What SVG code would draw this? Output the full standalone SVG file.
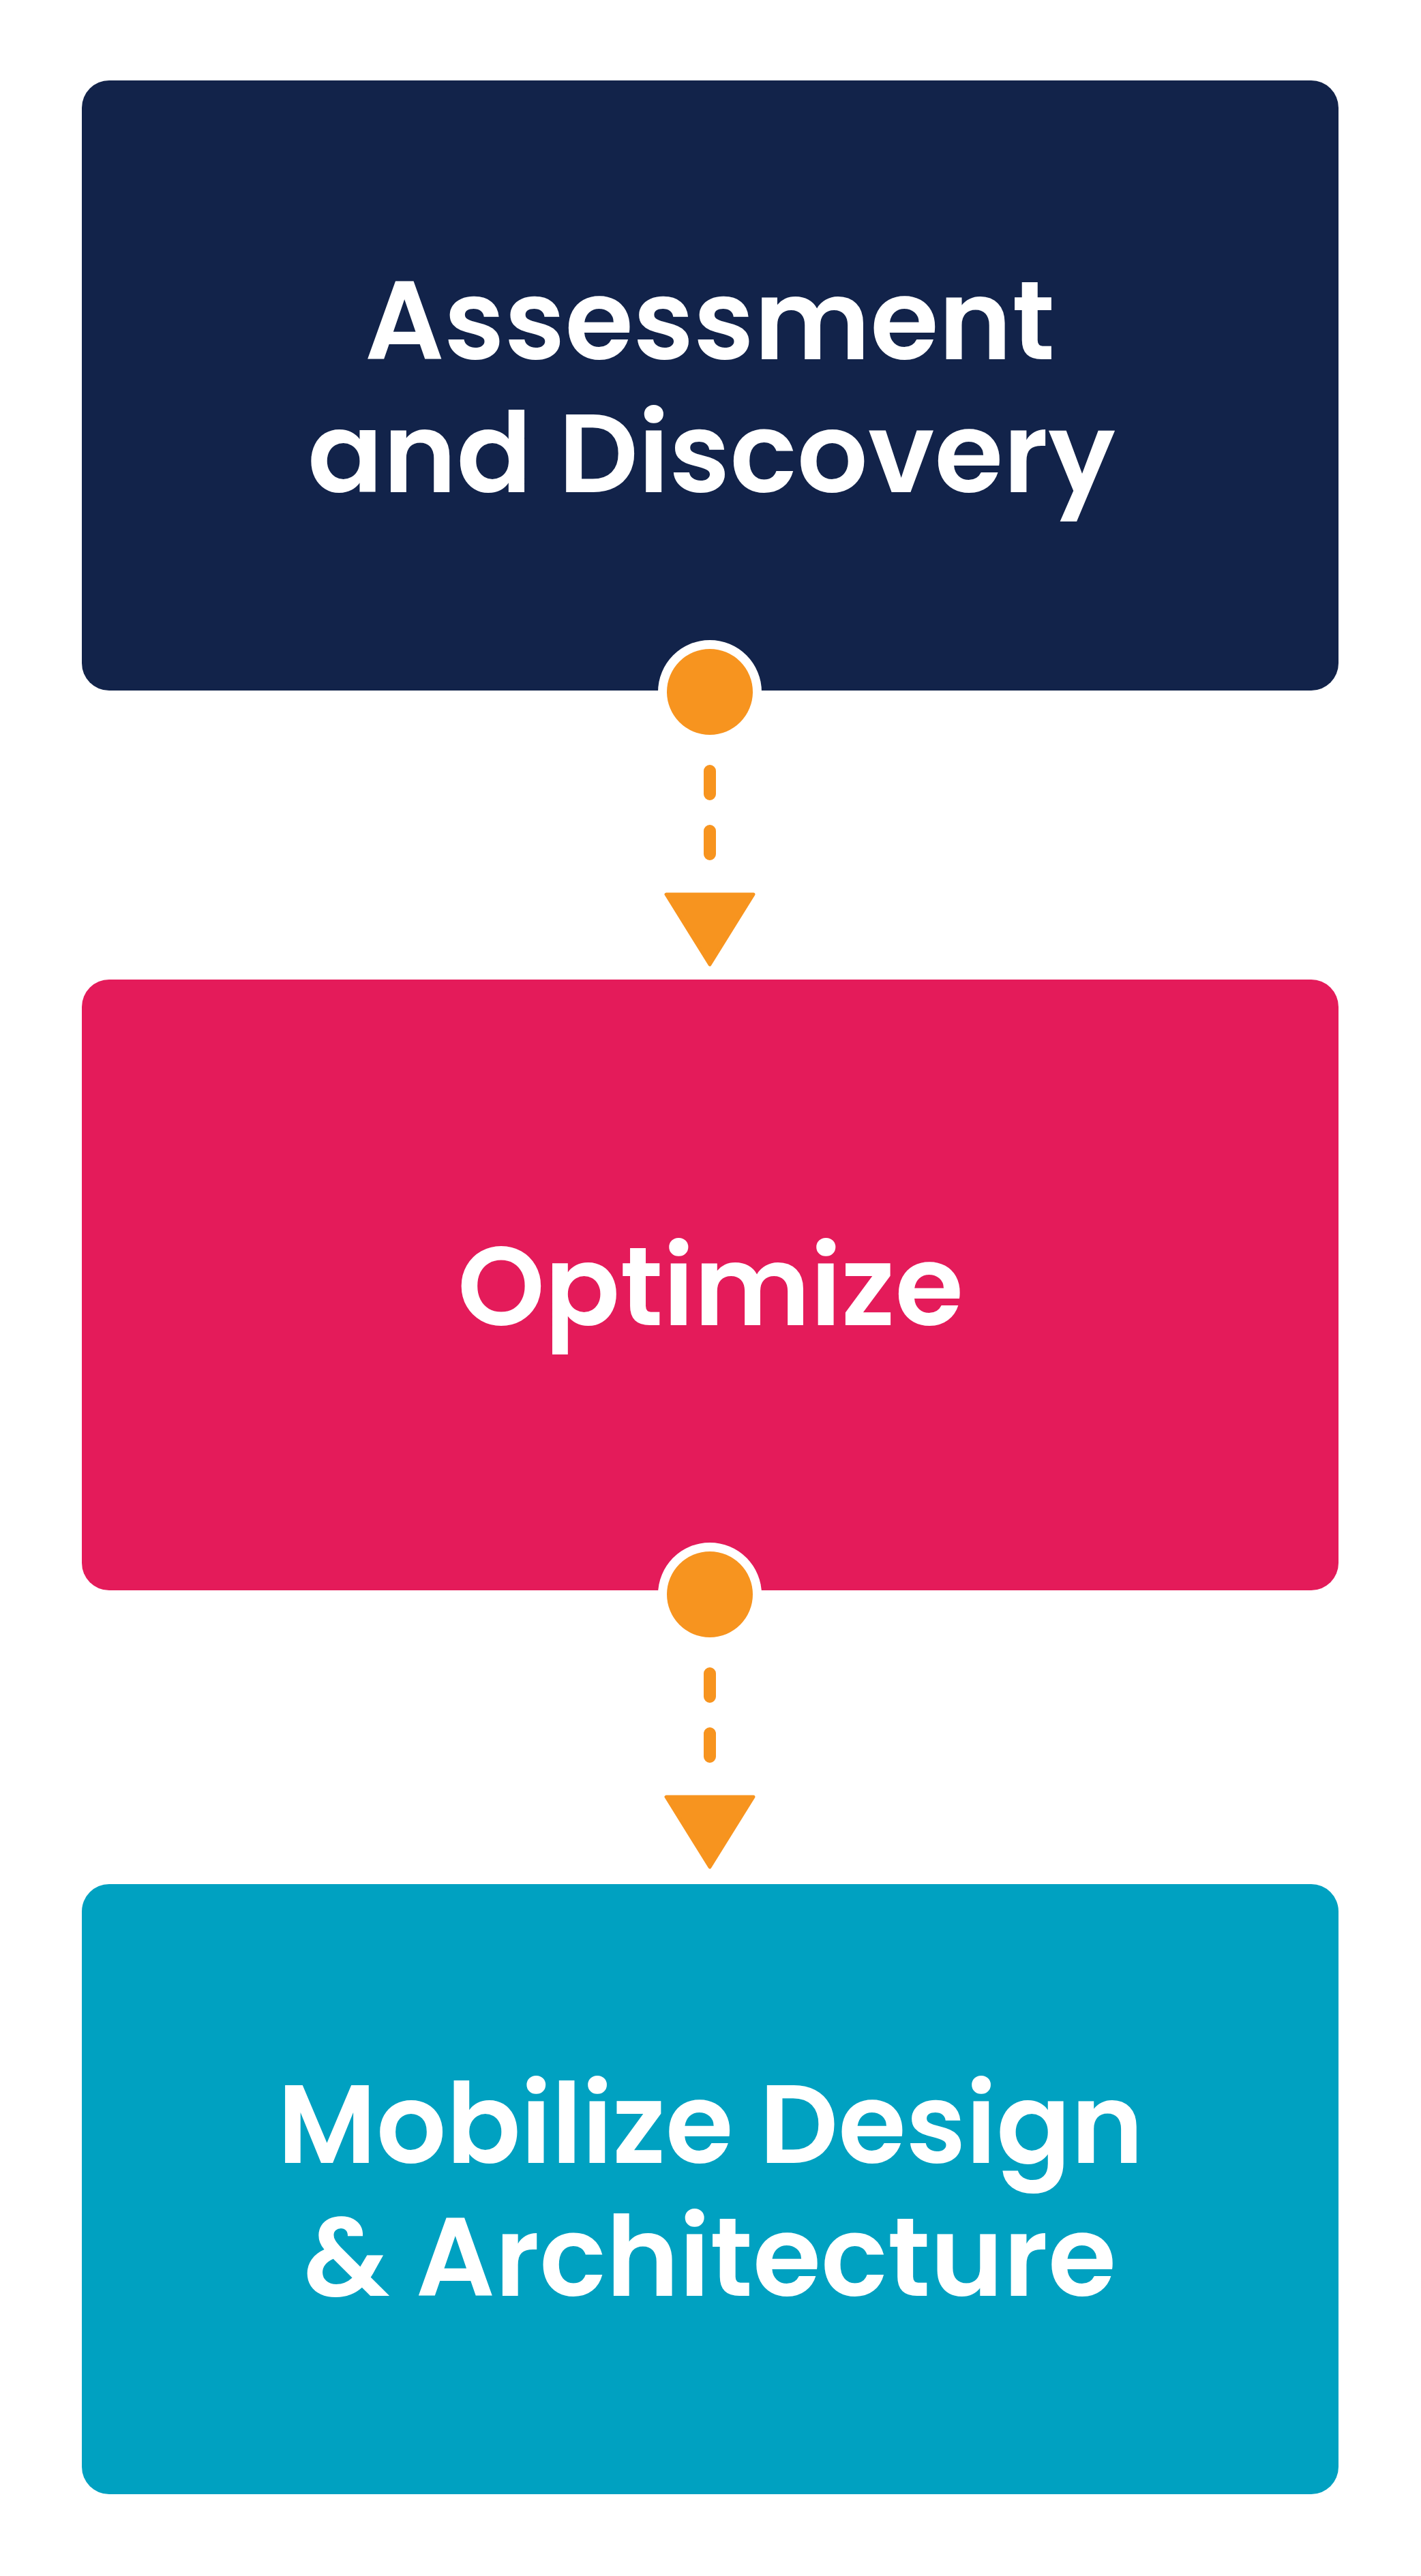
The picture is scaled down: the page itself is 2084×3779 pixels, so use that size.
<svg xmlns="http://www.w3.org/2000/svg" xmlns:xlink="http://www.w3.org/1999/xlink" width="2084" height="3779" viewBox="0 0 2084 3779">
  <style>
    .box { stroke: none; }
    .lbl { font-family: Poppins, Inter, "Open Sans", "Liberation Sans", sans-serif; font-weight: 600; font-size: 163px; fill: #FFFFFF; }
    .ring { fill: #FFFFFF; }
    .dot { fill: #F7941F; }
    .dash { fill: none; stroke: #F7941F; stroke-width: 18; stroke-linecap: round; stroke-dasharray: 34 54; }
    .head { fill: #F7941F; stroke: #F7941F; stroke-width: 5; stroke-linejoin: round; }
  </style>
  <defs>
    <g id="connector">
      <circle class="ring" cx="0" cy="0" r="76"/>
      <circle class="dot" cx="0" cy="0" r="63"/>
      <line class="dash" x1="0" y1="116" x2="0" y2="238"/>
      <polygon class="head" points="-64,297 64,297 0,400"/>
    </g>
  </defs>
  <rect x="0" y="0" width="2084" height="3779" fill="#FFFFFF"/>

  <g id="node-assessment">
    <rect class="box" x="120" y="118" width="1843" height="895" rx="40" ry="40" fill="#12234A"/>
    <text class="lbl" x="535" y="527" textLength="1012" lengthAdjust="spacingAndGlyphs">Assessment</text>
    <text class="lbl" x="451" y="722" textLength="1185" lengthAdjust="spacingAndGlyphs">and Discovery</text>
  </g>

  <g id="node-optimize">
    <rect class="box" x="120" y="1437" width="1843" height="896" rx="40" ry="40" fill="#E41B5A"/>
    <text class="lbl" x="671" y="1944" textLength="742" lengthAdjust="spacingAndGlyphs">Optimize</text>
  </g>

  <g id="node-mobilize">
    <rect class="box" x="120" y="2764" width="1843" height="895" rx="40" ry="40" fill="#00A1C1"/>
    <text class="lbl" x="407" y="3173" textLength="1270" lengthAdjust="spacingAndGlyphs">Mobilize Design</text>
    <text class="lbl" x="445" y="3368" textLength="1192" lengthAdjust="spacingAndGlyphs">&amp; Architecture</text>
  </g>

  <g id="connectors">
    <use xlink:href="#connector" href="#connector" transform="translate(1041,1015)"/>
    <use xlink:href="#connector" href="#connector" transform="translate(1041,2339)"/>
  </g>
</svg>
